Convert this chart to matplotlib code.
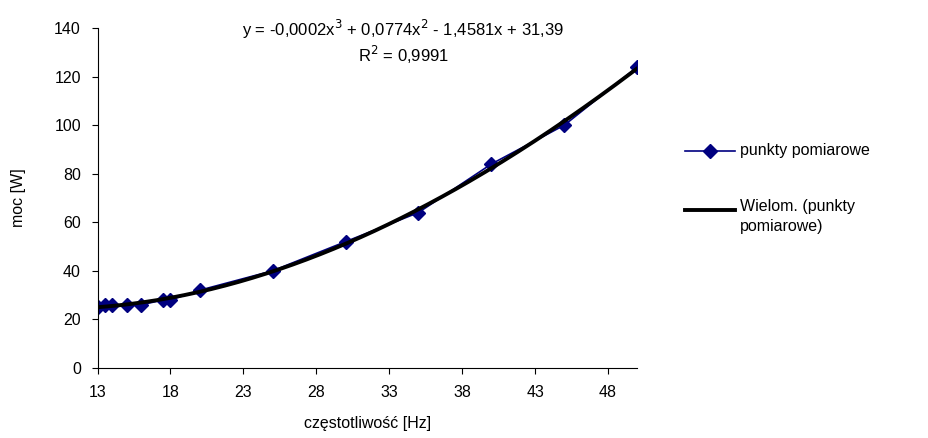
import numpy as np
import matplotlib.pyplot as plt
from matplotlib.lines import Line2D

plt.rcParams['font.family'] = ['Liberation Sans', 'DejaVu Sans']

freq = [13, 13.5, 14, 15, 16, 17.5, 18, 20, 25, 30, 35, 40, 45, 50]
power = [25, 26, 26, 26, 26, 28, 28, 32, 40, 52, 64, 84, 100, 124]
xticks = [13, 18, 23, 28, 33, 38, 43, 48]
yticks = [0, 20, 40, 60, 80, 100, 120, 140]

NAVY = '#000080'
FS = 11.5

fig = plt.figure(figsize=(9.29, 4.38), dpi=100)
ax = fig.add_axes([0.105, 0.160, 0.581, 0.776])

ax.plot(freq, power, color=NAVY, lw=1.2, marker='D', ms=7,
        mec=NAVY, mfc=NAVY, zorder=2)

# wielomian 3 stopnia (linia trendu)
coef = np.polyfit(freq, power, 3)
xs = np.linspace(min(freq), max(freq), 200)
ax.plot(xs, np.polyval(coef, xs), color='black', lw=2.8, zorder=3)

ax.set_xlim(13, 50)
ax.set_ylim(0, 140)
ax.set_xticks(xticks)
ax.set_yticks(yticks)
ax.tick_params(labelsize=FS, direction='out', length=4, pad=8)
for s in ['top', 'right']:
    ax.spines[s].set_visible(False)
ax.set_xlabel('częstotliwość [Hz]', fontsize=FS, labelpad=12)
ax.set_ylabel('moc [W]', fontsize=FS, labelpad=20)

fig.text(0.434, 0.932, 'y = -0,0002x$^3$ + 0,0774x$^2$ - 1,4581x + 31,39',
         ha='center', va='center', fontsize=FS + 0.5)
fig.text(0.434, 0.874, 'R$^2$ = 0,9991', ha='center', va='center', fontsize=FS + 0.5)

# legenda
y1 = 1 - 151 / 438
y2 = 1 - 210 / 438
fig.add_artist(Line2D([0.737, 0.764, 0.791], [y1, y1, y1], transform=fig.transFigure,
                      color=NAVY, lw=1.2, marker='D', ms=7, markevery=[1]))
fig.add_artist(Line2D([0.737, 0.791], [y2, y2], transform=fig.transFigure,
                      color='black', lw=2.8))
fig.text(0.797, y1, 'punkty pomiarowe', ha='left', va='center', fontsize=FS)
fig.text(0.797, y2 + 0.025, 'Wielom. (punkty\npomiarowe)', ha='left', va='top',
         fontsize=FS, linespacing=1.4)

fig.savefig('out.png', dpi=100)
